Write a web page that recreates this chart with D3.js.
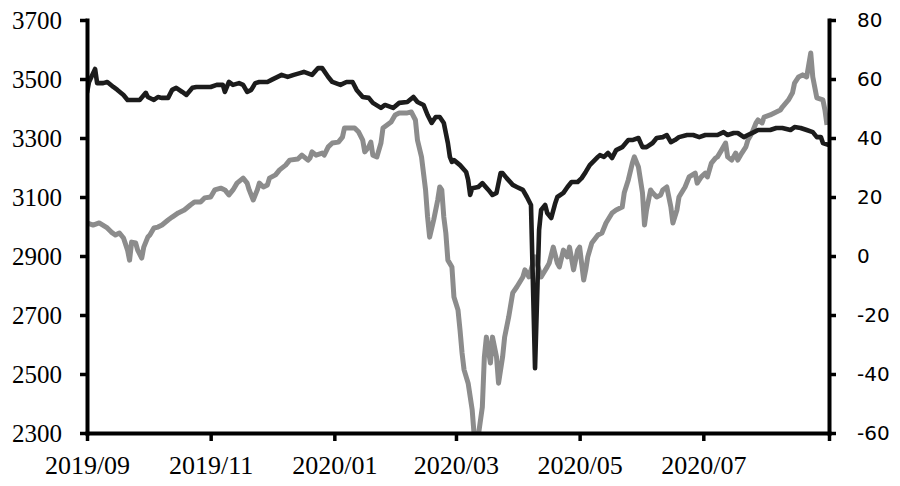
<!DOCTYPE html>
<html>
<head>
<meta charset="utf-8">
<script src="https://cdn.jsdelivr.net/npm/d3@7"></script>
<style>
  html, body { margin: 0; padding: 0; background: #ffffff; }
  svg { display: block; }
</style>
</head>
<body>
<svg id="chart" width="900" height="486"></svg>
<script>
// ---------- data ----------
const xTickDates = ["2019-09-01","2019-11-01","2020-01-01","2020-03-01","2020-05-01","2020-07-01","2020-09-01"];
const xTickLabels = ["2019/09","2019/11","2020/01","2020/03","2020/05","2020/07",""];
const leftTicks = [2300, 2500, 2700, 2900, 3100, 3300, 3500, 3700];
const rightTicks = [-60, -40, -20, 0, 20, 40, 60, 80];

// gray series (left axis)
const grayDates = [
"2019-09-01","2019-09-04","2019-09-07","2019-09-11","2019-09-13","2019-09-15","2019-09-17","2019-09-19","2019-09-21","2019-09-22",
"2019-09-23","2019-09-25","2019-09-26","2019-09-28","2019-09-29","2019-10-01","2019-10-02","2019-10-04","2019-10-06","2019-10-08",
"2019-10-11","2019-10-13","2019-10-16","2019-10-19","2019-10-22","2019-10-24","2019-10-27","2019-10-29","2019-11-01","2019-11-03",
"2019-11-06","2019-11-08","2019-11-10","2019-11-12","2019-11-14","2019-11-17","2019-11-19","2019-11-20","2019-11-22","2019-11-24",
"2019-11-25","2019-11-27","2019-11-29","2019-11-30","2019-12-03","2019-12-05","2019-12-08","2019-12-10","2019-12-14","2019-12-16",
"2019-12-19","2019-12-20","2019-12-21","2019-12-23","2019-12-26","2019-12-27","2019-12-29","2019-12-31","2020-01-03","2020-01-05",
"2020-01-06","2020-01-09","2020-01-11","2020-01-13","2020-01-15","2020-01-16","2020-01-18","2020-01-19","2020-01-20","2020-01-22",
"2020-01-24","2020-01-25","2020-01-27","2020-01-29","2020-01-31","2020-02-02","2020-02-06","2020-02-08","2020-02-10","2020-02-11",
"2020-02-13","2020-02-15","2020-02-16","2020-02-17","2020-02-19","2020-02-21","2020-02-22","2020-02-23","2020-02-24","2020-02-25",
"2020-02-26","2020-02-28","2020-02-29","2020-03-02","2020-03-03","2020-03-04","2020-03-05","2020-03-07","2020-03-09","2020-03-10",
"2020-03-12","2020-03-14","2020-03-15","2020-03-16","2020-03-18","2020-03-19","2020-03-21","2020-03-22","2020-03-24","2020-03-25",
"2020-03-27","2020-03-29","2020-03-31","2020-04-03","2020-04-04","2020-04-06","2020-04-08","2020-04-09","2020-04-12","2020-04-15",
"2020-04-16","2020-04-18","2020-04-20","2020-04-21","2020-04-23","2020-04-25","2020-04-26","2020-04-28","2020-04-30","2020-05-01",
"2020-05-03","2020-05-04","2020-05-05","2020-05-07","2020-05-10","2020-05-12","2020-05-14","2020-05-17","2020-05-19","2020-05-22",
"2020-05-23","2020-05-25","2020-05-27","2020-05-28","2020-05-30","2020-06-01","2020-06-02","2020-06-03","2020-06-05","2020-06-06",
"2020-06-08","2020-06-10","2020-06-11","2020-06-13","2020-06-15","2020-06-16","2020-06-18","2020-06-19","2020-06-22","2020-06-24",
"2020-06-27","2020-06-28","2020-06-30","2020-07-02","2020-07-03","2020-07-05","2020-07-07","2020-07-08","2020-07-10","2020-07-12",
"2020-07-13","2020-07-15","2020-07-17","2020-07-18","2020-07-20","2020-07-22","2020-07-23","2020-07-25","2020-07-27","2020-07-28",
"2020-07-30","2020-07-31","2020-08-03","2020-08-05","2020-08-08","2020-08-09","2020-08-12","2020-08-14","2020-08-15","2020-08-17",
"2020-08-19","2020-08-21","2020-08-23","2020-08-24","2020-08-26","2020-08-29","2020-08-30","2020-08-31"];
const grayValues = [
3012,3005,3012,2995,2981,2971,2978,2961,2920,2886,
2947,2944,2920,2893,2930,2964,2971,2995,2998,3005,
3022,3032,3046,3056,3073,3083,3083,3097,3100,3124,
3130,3124,3107,3124,3147,3164,3147,3124,3090,3124,
3147,3134,3141,3164,3175,3192,3208,3225,3229,3242,
3225,3232,3253,3242,3249,3242,3270,3283,3286,3303,
3334,3334,3334,3320,3293,3253,3270,3286,3242,3236,
3283,3334,3344,3354,3378,3385,3385,3388,3361,3293,
3236,3124,3032,2964,3022,3090,3134,3124,3032,2978,
2886,2863,2761,2717,2649,2571,2514,2469,2378,2290,
2290,2388,2558,2625,2537,2625,2558,2469,2558,2625,
2693,2775,2795,2829,2853,2829,2876,2897,2829,2863,
2876,2930,2876,2863,2920,2897,2930,2853,2920,2930,
2819,2853,2897,2944,2971,2978,3012,3046,3056,3066,
3114,3158,3215,3236,3202,3114,3005,3056,3124,3114,
3100,3107,3124,3134,3066,3012,3056,3100,3134,3168,
3181,3147,3168,3181,3168,3215,3232,3236,3259,3283,
3236,3225,3249,3225,3249,3270,3293,3317,3351,3361,
3351,3371,3378,3385,3395,3405,3429,3453,3486,3507,
3514,3507,3588,3507,3436,3429,3395,3344];

// black series (right axis)
const blackDates = [
"2019-09-01","2019-09-02","2019-09-05","2019-09-06","2019-09-09","2019-09-11","2019-09-14","2019-09-16","2019-09-19","2019-09-21",
"2019-09-24","2019-09-27","2019-09-30","2019-10-01","2019-10-04","2019-10-06","2019-10-08","2019-10-11","2019-10-13","2019-10-15",
"2019-10-18","2019-10-20","2019-10-23","2019-10-25","2019-10-28","2019-11-01","2019-11-04","2019-11-07","2019-11-08","2019-11-10",
"2019-11-12","2019-11-15","2019-11-17","2019-11-19","2019-11-21","2019-11-23","2019-11-25","2019-11-29","2019-12-01","2019-12-04",
"2019-12-06","2019-12-09","2019-12-12","2019-12-15","2019-12-17","2019-12-21","2019-12-24","2019-12-26","2019-12-29","2019-12-31",
"2020-01-04","2020-01-07","2020-01-10","2020-01-12","2020-01-15","2020-01-18","2020-01-20","2020-01-24","2020-01-26","2020-01-30",
"2020-02-02","2020-02-06","2020-02-09","2020-02-11","2020-02-14","2020-02-16","2020-02-18","2020-02-20","2020-02-22","2020-02-24",
"2020-02-26","2020-02-27","2020-02-28","2020-02-29","2020-03-03","2020-03-06","2020-03-07","2020-03-08","2020-03-09","2020-03-12",
"2020-03-14","2020-03-17","2020-03-19","2020-03-21","2020-03-23","2020-03-24","2020-03-26","2020-03-29","2020-03-31","2020-04-03",
"2020-04-05","2020-04-07","2020-04-09","2020-04-11","2020-04-12","2020-04-14","2020-04-15","2020-04-17","2020-04-19","2020-04-20",
"2020-04-23","2020-04-25","2020-04-27","2020-04-30","2020-05-02","2020-05-04","2020-05-06","2020-05-10","2020-05-11","2020-05-13",
"2020-05-15","2020-05-17","2020-05-19","2020-05-22","2020-05-25","2020-05-27","2020-05-30","2020-06-01","2020-06-03","2020-06-06",
"2020-06-08","2020-06-11","2020-06-13","2020-06-15","2020-06-17","2020-06-19","2020-06-23","2020-06-26","2020-06-29","2020-07-02",
"2020-07-04","2020-07-08","2020-07-11","2020-07-13","2020-07-16","2020-07-18","2020-07-21","2020-07-23","2020-07-26","2020-07-28",
"2020-07-30","2020-08-03","2020-08-06","2020-08-09","2020-08-13","2020-08-15","2020-08-18","2020-08-21","2020-08-24","2020-08-26",
"2020-08-28","2020-08-29","2020-09-01"];
const blackValues = [
55.3,59.0,63.4,58.6,58.6,59.0,57.3,56.3,54.6,52.9,
52.9,52.9,55.3,53.9,52.9,53.9,53.6,53.6,56.3,57.0,
55.6,54.6,57.0,57.3,57.3,57.3,58.0,58.0,55.6,59.0,
58.0,58.6,58.0,55.6,56.3,58.6,59.0,59.0,59.7,60.7,
61.4,60.7,61.4,62.0,62.4,61.4,63.7,63.7,60.7,59.0,
58.0,59.0,59.0,56.3,53.9,53.6,51.9,50.2,51.2,50.2,
51.9,52.2,53.9,52.2,51.2,47.8,45.1,47.1,47.1,45.1,
38.3,33.6,31.9,32.5,30.8,28.5,25.8,20.7,23.0,23.4,
24.7,22.4,20.7,21.4,28.1,28.1,26.4,24.1,23.4,22.4,
20.0,17.3,-38.0,8.8,15.6,17.3,14.6,12.9,18.0,20.0,
21.4,23.4,25.1,25.1,26.4,28.5,30.8,33.6,34.2,33.6,
34.9,33.2,35.9,36.9,39.3,39.3,40.0,36.9,36.9,38.3,
40.0,40.3,41.0,38.6,39.3,40.3,41.0,41.0,40.3,41.0,
41.0,41.0,42.0,41.0,41.7,41.7,40.3,41.0,42.0,42.7,
42.7,42.7,43.4,43.4,42.7,43.7,43.4,42.7,42.0,40.3,
40.3,38.3,37.6];

// ---------- chart ----------
const parse = d3.utcParse("%Y-%m-%d");
const svg = d3.select("#chart");
const L = 87, R = 829, T = 20, B = 433;

const x = d3.scaleUtc()
  .domain([parse("2019-09-01"), parse("2020-09-01")])
  .range([L, R]);
const yL = d3.scaleLinear().domain([2300, 3700]).range([B, T]);
const yR = d3.scaleLinear().domain([-60, 80]).range([B, T]);

svg.append("defs").append("clipPath").attr("id", "plotclip")
  .append("rect").attr("x", L).attr("y", T - 5).attr("width", R - L).attr("height", B - T + 5);

const grayData = grayDates.map((d, i) => ({ date: parse(d), value: grayValues[i] }));
const blackData = blackDates.map((d, i) => ({ date: parse(d), value: blackValues[i] }));

const plot = svg.append("g").attr("clip-path", "url(#plotclip)");

plot.append("path")
  .datum(grayData)
  .attr("fill", "none")
  .attr("stroke", "#8c8c8c")
  .attr("stroke-width", 5)
  .attr("stroke-linejoin", "round")
  .attr("d", d3.line().x(d => x(d.date)).y(d => yL(d.value)));

plot.append("path")
  .datum(blackData)
  .attr("fill", "none")
  .attr("stroke", "#1c1c1c")
  .attr("stroke-width", 4.6)
  .attr("stroke-linejoin", "round")
  .attr("d", d3.line().x(d => x(d.date)).y(d => yR(d.value)));

// axes
function styleAxis(g) {
  g.select(".domain").attr("stroke", "#000").attr("stroke-width", 4).attr("stroke-linecap", "square");
  g.selectAll(".tick line").attr("stroke", "#000").attr("stroke-width", 3.5);
}

const leftAxis = svg.append("g")
  .attr("transform", `translate(${L},0)`)
  .call(d3.axisLeft(yL).tickValues(leftTicks).tickFormat(d => String(d)).tickSize(7).tickSizeOuter(0).tickPadding(18));
styleAxis(leftAxis);
leftAxis.selectAll(".tick text")
  .attr("fill", "#000")
  .style("font-family", "'Liberation Serif', 'Times New Roman', serif")
  .style("font-size", "25px");

const rightAxis = svg.append("g")
  .attr("transform", `translate(${R},0)`)
  .call(d3.axisRight(yR).tickValues(rightTicks).tickFormat(d => String(d)).tickSize(7).tickSizeOuter(0).tickPadding(21));
styleAxis(rightAxis);
rightAxis.selectAll(".tick text")
  .attr("fill", "#000")
  .style("font-family", "'DejaVu Sans', Verdana, sans-serif")
  .style("font-size", "20px");

const bottomAxis = svg.append("g")
  .attr("transform", `translate(0,${B})`)
  .call(d3.axisBottom(x).tickValues(xTickDates.map(parse))
    .tickFormat((d, i) => xTickLabels[i]).tickSize(8).tickSizeOuter(0));
styleAxis(bottomAxis);
bottomAxis.selectAll(".tick text")
  .attr("fill", "#000")
  .attr("y", 41)
  .attr("dy", null)
  .style("font-family", "'Liberation Serif', 'Times New Roman', serif")
  .style("font-size", "26px");
</script>
</body>
</html>
